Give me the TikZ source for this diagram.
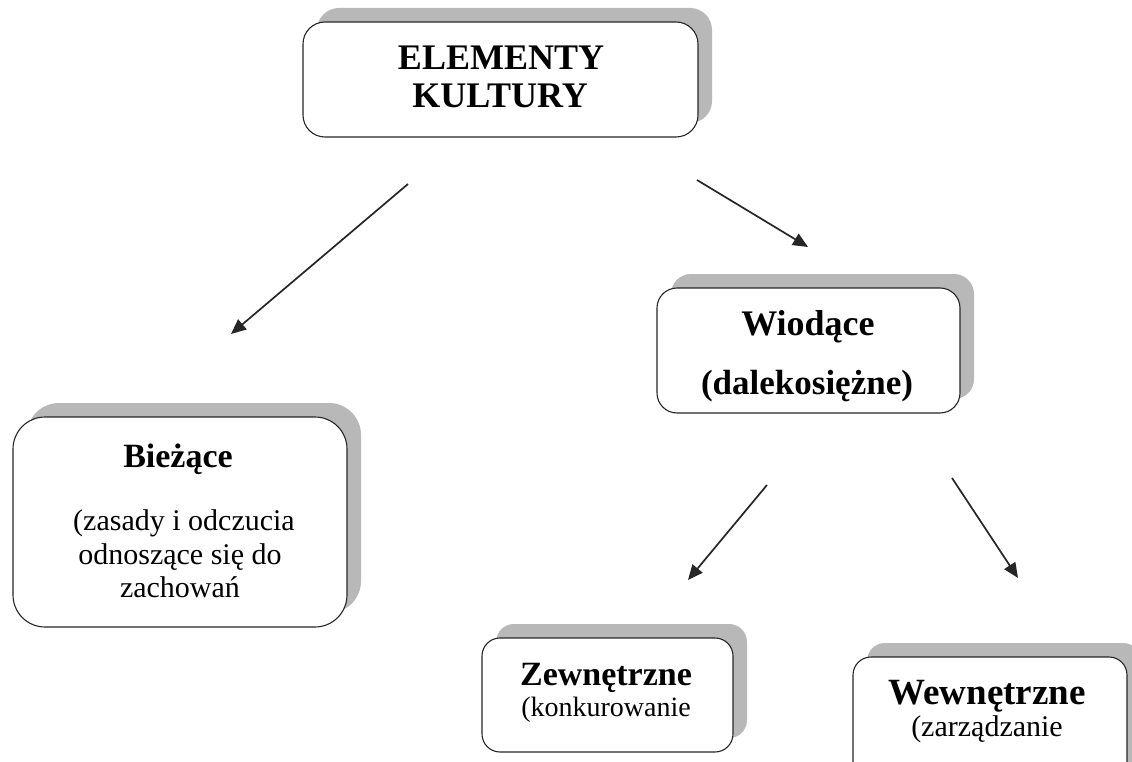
\documentclass[tikz,border=0pt]{standalone}
\usepackage{fontspec}
\setmainfont{Liberation Serif}
\usetikzlibrary{shadows,arrows.meta}
\tikzset{
  box/.style={draw=black!85, line width=1.1pt, fill=white, inner sep=0pt,
    drop shadow={shadow xshift=14pt, shadow yshift=14pt, fill=black!28, opacity=1}},
  arr/.style={draw=black!85, line width=1.7pt, -{Triangle[length=15pt,width=13pt]}},
  ttl/.style={anchor=base, inner sep=0pt, font=\fontsize{36}{40}\selectfont\bfseries},
  sub/.style={anchor=base, inner sep=0pt, font=\fontsize{30}{34}\selectfont}
}
\begin{document}
\begin{tikzpicture}[x=1pt,y=-1pt]
\useasboundingbox (0,0) rectangle (1132,762);
\clip (0,0) rectangle (1132,762);
\fill[white] (0,0) rectangle (1132,762);
% boxes
\node[box, minimum width=395pt, minimum height=115pt, rounded corners=22pt] (top) at (500.5,79.5) {};
\node[box, minimum width=334pt, minimum height=210pt, rounded corners=32pt] (biez) at (180,522) {};
\node[box, minimum width=303pt, minimum height=125pt, rounded corners=20pt] (wiod) at (808.5,350.5) {};
\node[box, minimum width=251pt, minimum height=114pt, rounded corners=18pt] (zewn) at (607.5,695) {};
\node[box, minimum width=274pt, minimum height=150pt, rounded corners=18pt] (wewn) at (990,732) {};
% texts
\node[ttl] (t1) at (501,70) {ELEMENTY};
\node[ttl] (t2) at (500,108) {KULTURY};
\node[ttl, font=\fontsize{34}{38}\selectfont\bfseries] (b1) at (178,467) {Bieżące};
\node[sub] (b2) at (184,530) {(zasady i odczucia};
\node[sub] (b3) at (180,564) {odnoszące się do};
\node[sub] (b4) at (180,597) {zachowań};
\node[ttl] (w1) at (808,335) {Wiodące};
\node[ttl, font=\fontsize{35}{40}\selectfont\bfseries] (w2) at (807,394) {(dalekosiężne)};
\node[ttl, font=\fontsize{34}{38}\selectfont\bfseries] (z1) at (606,685) {Zewnętrzne};
\node[sub, font=\fontsize{28}{32}\selectfont] (z2) at (606,716) {(konkurowanie};
\node[ttl, font=\fontsize{37}{40}\selectfont\bfseries] (e1) at (987,704) {Wewnętrzne};
\node[sub] (e2) at (987,736) {(zarządzanie};
% arrows
\coordinate (a1s) at (408,184);
\coordinate (a1e) at (231,334);
\coordinate (a2s) at (697,180);
\coordinate (a2e) at (808,247);
\coordinate (a3s) at (767,485);
\coordinate (a3e) at (688,580);
\coordinate (a4s) at (952,478);
\coordinate (a4e) at (1018,578);
\draw[arr] (a1s) -- (a1e);
\draw[arr] (a2s) -- (a2e);
\draw[arr] (a3s) -- (a3e);
\draw[arr] (a4s) -- (a4e);
\end{tikzpicture}
\end{document}
